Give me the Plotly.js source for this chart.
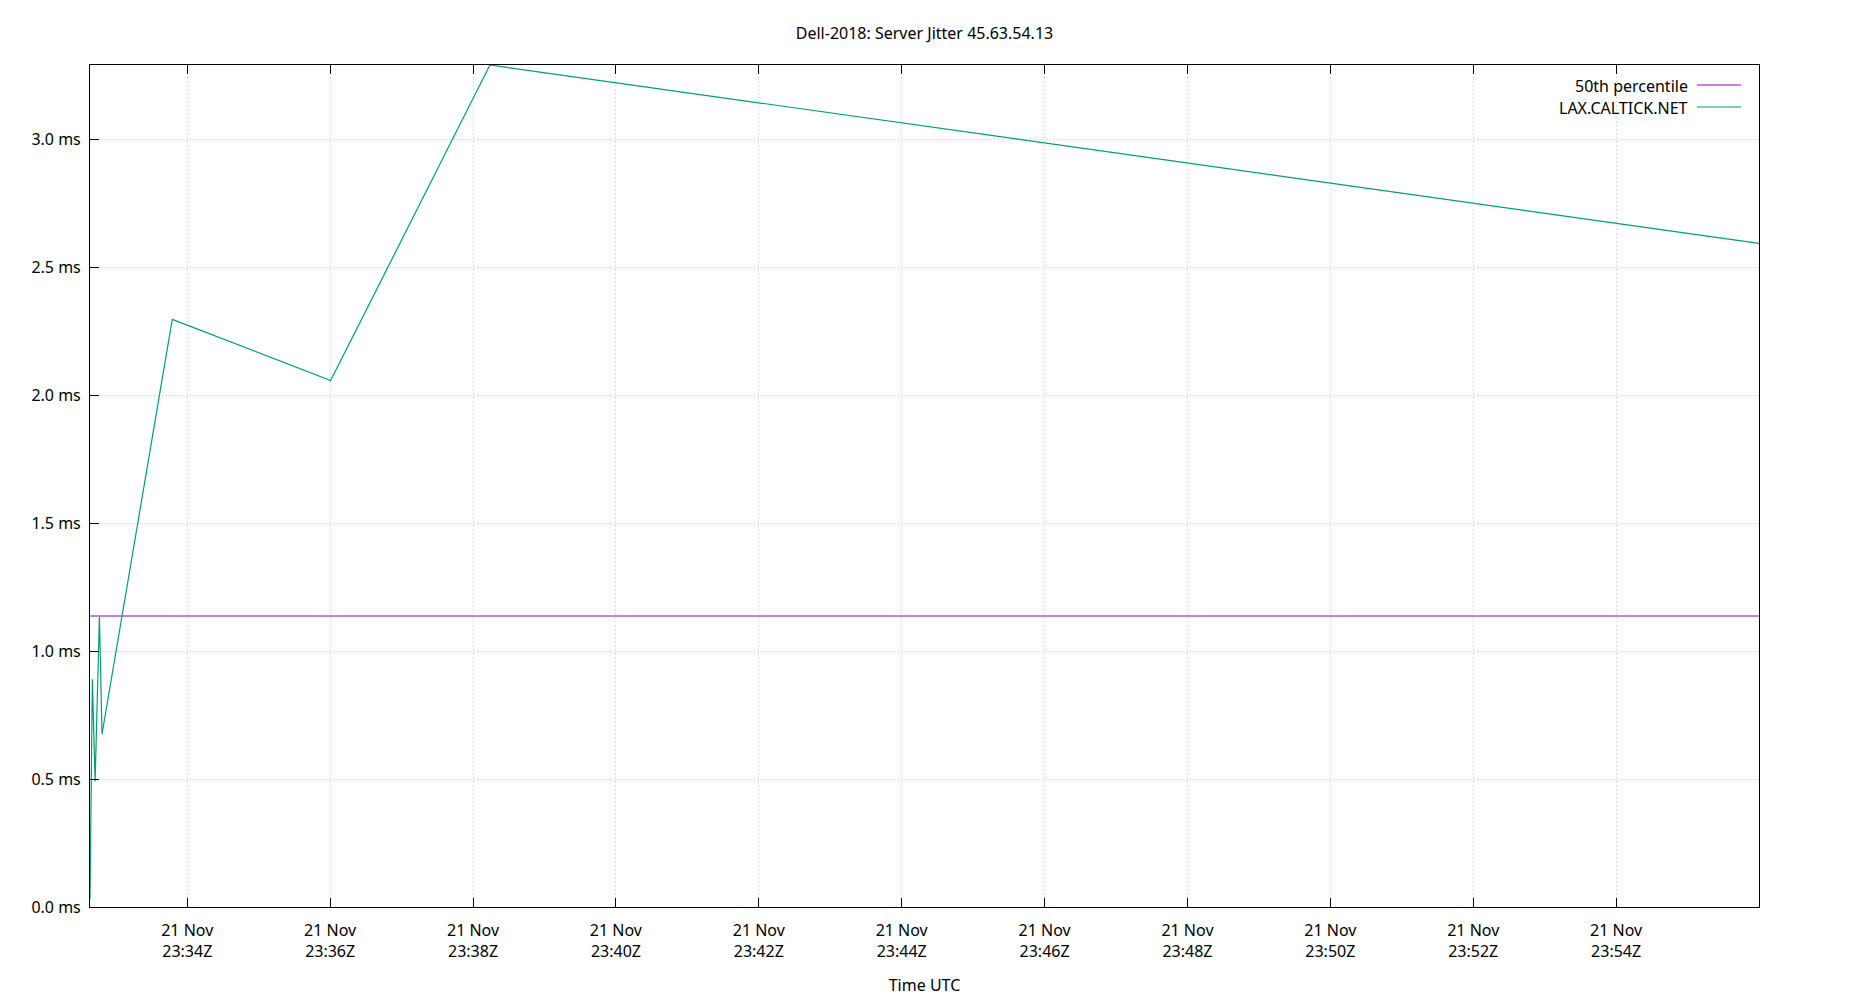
<!DOCTYPE html>
<html>
<head>
<meta charset="utf-8">
<script src="https://cdn.plot.ly/plotly-3.0.1.min.js"></script>
<style>html,body{margin:0;padding:0;background:#fff;}#chart{width:1850px;height:1000px;}</style>
</head>
<body>
<div id="chart"></div>
<script>
// Data
var sampleTimes = [
  "2018-11-21 23:32:38.3",
  "2018-11-21 23:32:40.3",
  "2018-11-21 23:32:42.6",
  "2018-11-21 23:32:46.2",
  "2018-11-21 23:32:48.4",
  "2018-11-21 23:33:47.4",
  "2018-11-21 23:36:00.4",
  "2018-11-21 23:38:14.2",
  "2018-11-21 23:56:00.0"
];
var jitterMs = [0.03, 0.89, 0.49, 1.134, 0.676, 2.296, 2.057, 3.29, 2.593];
var percentileTimes = ["2018-11-21 23:32:38.3", "2018-11-21 23:56:00.0"];
var percentile50 = [1.137, 1.137];
var seriesNames = ["50th percentile", "LAX.CALTICK.NET"];
var xTickVals = [
  "2018-11-21 23:34", "2018-11-21 23:36", "2018-11-21 23:38", "2018-11-21 23:40",
  "2018-11-21 23:42", "2018-11-21 23:44", "2018-11-21 23:46", "2018-11-21 23:48",
  "2018-11-21 23:50", "2018-11-21 23:52", "2018-11-21 23:54"
];
var xTickText = [
  "21 Nov<br>23:34Z", "21 Nov<br>23:36Z", "21 Nov<br>23:38Z", "21 Nov<br>23:40Z",
  "21 Nov<br>23:42Z", "21 Nov<br>23:44Z", "21 Nov<br>23:46Z", "21 Nov<br>23:48Z",
  "21 Nov<br>23:50Z", "21 Nov<br>23:52Z", "21 Nov<br>23:54Z"
];
var yTickVals = [0, 0.5, 1.0, 1.5, 2.0, 2.5, 3.0];
var yTickText = ["0.0 ms", "0.5 ms", "1.0 ms", "1.5 ms", "2.0 ms", "2.5 ms", "3.0 ms"];
var yRange = [0, 3.29];

var colors = ["#9400d3", "#009e73"];
var FONT = "Noto Sans, Open Sans, sans-serif";

var traces = [
  {
    x: percentileTimes, y: percentile50, type: "scatter", mode: "lines",
    name: seriesNames[0], line: {color: colors[0], width: 1.2}, showlegend: false
  },
  {
    x: sampleTimes, y: jitterMs, type: "scatter", mode: "lines",
    name: seriesNames[1], line: {color: colors[1], width: 1.2}, showlegend: false
  }
];

var layout = {
  width: 1850, height: 1000,
  paper_bgcolor: "#fff", plot_bgcolor: "#fff",
  font: {family: FONT, size: 16, color: "#000"},
  margin: {l: 90, r: 91, t: 65, b: 93, pad: 0},
  title: {text: "Dell-2018: Server Jitter 45.63.54.13", font: {family: FONT, size: 16, color: "#000"},
          x: 0.5, xanchor: "center", y: 1 - 33/1000, yanchor: "middle", xref: "paper"},
  showlegend: false,
  xaxis: {
    type: "date",
    range: [sampleTimes[0], sampleTimes[sampleTimes.length - 1]],
    tickmode: "array", tickvals: xTickVals, ticktext: xTickText,
    ticks: "inside", ticklen: 9, tickwidth: 1, tickcolor: "#000",
    showline: true, linecolor: "#000", linewidth: 1, mirror: "ticks",
    showgrid: true, gridcolor: "#c4c4c4", gridwidth: 1, griddash: "1px,3px",
    zeroline: false, ticklabelstandoff: 9,
    tickfont: {family: FONT, size: 16, color: "#000"},
    title: {text: "Time UTC", font: {family: FONT, size: 16, color: "#000"}, standoff: 18}
  },
  yaxis: {
    range: yRange,
    tickmode: "array", tickvals: yTickVals, ticktext: yTickText,
    ticks: "inside", ticklen: 9, tickwidth: 1, tickcolor: "#000",
    showline: true, linecolor: "#000", linewidth: 1, mirror: true,
    showgrid: true, gridcolor: "#c4c4c4", gridwidth: 1, griddash: "1px,3px",
    zeroline: false, ticklabelstandoff: 5,
    tickfont: {family: FONT, size: 16, color: "#000"}
  },
  annotations: [
    {xref: "paper", yref: "paper", x: (1690 - 90) / 1669, y: (907 - 85.5) / 842,
     xanchor: "right", yanchor: "middle", text: seriesNames[0], showarrow: false,
     font: {family: FONT, size: 16, color: "#000"}},
    {xref: "paper", yref: "paper", x: (1690 - 90) / 1669, y: (907 - 107.5) / 842,
     xanchor: "right", yanchor: "middle", text: seriesNames[1], showarrow: false,
     font: {family: FONT, size: 16, color: "#000"}}
  ],
  shapes: [
    {type: "line", xref: "paper", yref: "paper",
     x0: (1697 - 90) / 1669, x1: (1741 - 90) / 1669, y0: (907 - 85) / 842, y1: (907 - 85) / 842,
     line: {color: colors[0], width: 1.2}},
    {type: "line", xref: "paper", yref: "paper",
     x0: (1697 - 90) / 1669, x1: (1741 - 90) / 1669, y0: (907 - 107) / 842, y1: (907 - 107) / 842,
     line: {color: colors[1], width: 1.2}}
  ]
};

Plotly.newPlot("chart", traces, layout, {displayModeBar: false, responsive: false});
</script>
</body>
</html>
